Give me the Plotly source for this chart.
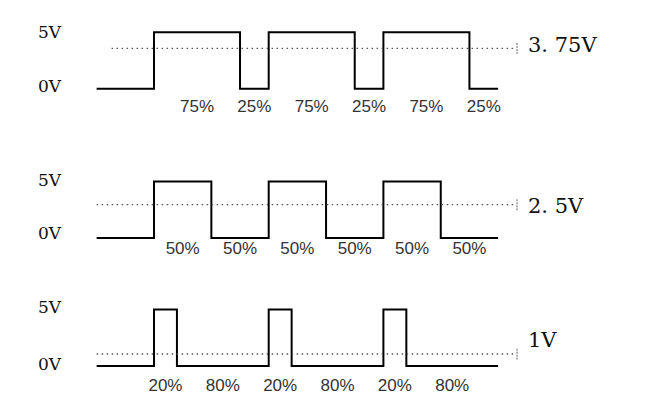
import plotly.graph_objects as go

# ---------------- data ----------------
# edge times in units of one PWM period (step "hv" waveform)
edge_times = [
    [-0.5, 0, 0.75, 1, 1.75, 2, 2.75, 3.0],   # 75 % duty
    [-0.5, 0, 0.5, 1, 1.5, 2, 2.5, 3.0],      # 50 % duty
    [-0.5, 0, 0.2, 1, 1.2, 2, 2.2, 3.0],      # 20 % duty
]
levels = [0, 5, 0, 5, 0, 5, 0, 0]              # volts at each edge
avg_levels = [3.58, 2.95, 1.06]                # dotted average line (as drawn)
avg_start = [-0.37, -0.5, -0.5]
avg_end = 3.15
avg_labels = ["3. 75V", "2. 5V", "1V"]
pct_pos = [
    [0.375, 0.875, 1.375, 1.875, 2.375, 2.875],
    [0.25, 0.75, 1.25, 1.75, 2.25, 2.75],
    [0.1, 0.6, 1.1, 1.6, 2.1, 2.6],
]
pct_text = [
    ["75%", "25%", "75%", "25%", "75%", "25%"],
    ["50%", "50%", "50%", "50%", "50%", "50%"],
    ["20%", "80%", "20%", "80%", "20%", "80%"],
]
volt_ticks = [5, 0]
volt_tick_text = ["5V", "0V"]

# ---------------- layout geometry ----------------
W, H = 655, 406
PX_PER_V = 11.3
baselines_px = [88.8, 238.0, 366.0]            # pixel row of 0 V per panel
X0_PX, PX_PER_T = 154.0, 114.7
x_range = [-X0_PX / PX_PER_T, (W - X0_PX) / PX_PER_T]

pct_y = [-1.68, -1.06, -1.85]
label_y = [3.9, 2.83, 2.3]
v_label_up = [(0, 3), (2, 5), (3, 2)]          # pixel nudges of 5V / 0V labels

fig = go.Figure()
axes = ["y", "y2", "y3"]

for i in range(3):
    ax = axes[i]
    fig.add_trace(go.Scatter(
        x=edge_times[i], y=levels, mode="lines", line_shape="hv",
        line=dict(color="black", width=2), yaxis=ax, showlegend=False,
        hoverinfo="skip"))
    fig.add_trace(go.Scatter(
        x=[avg_start[i], avg_end], y=[avg_levels[i], avg_levels[i]], mode="lines",
        line=dict(color="#555555", width=1.4, dash="1.5px,3.5px"), yaxis=ax,
        showlegend=False, hoverinfo="skip"))
    # small end tick of the dotted line
    fig.add_trace(go.Scatter(
        x=[avg_end + 0.015, avg_end + 0.015],
        y=[avg_levels[i] - 0.5, avg_levels[i] + 0.5], mode="lines",
        line=dict(color="#666666", width=1, dash="2px,1px"), yaxis=ax,
        showlegend=False, hoverinfo="skip"))
    # percentage labels
    fig.add_trace(go.Scatter(
        x=pct_pos[i], y=[pct_y[i]] * len(pct_pos[i]), mode="text",
        text=pct_text[i], textposition="middle center",
        textfont=dict(family="Liberation Sans, Arial, sans-serif", size=17, color="#333333"),
        yaxis=ax, showlegend=False, hoverinfo="skip"))
    # 5V / 0V labels
    for v, t, up in zip(volt_ticks, volt_tick_text, v_label_up[i]):
        fig.add_annotation(
            x=-0.905, y=v, xref="x", yref=ax, text=t, showarrow=False,
            yshift=up, xanchor="center", yanchor="middle",
            font=dict(family="DejaVu Serif, serif", size=17, color="#111111"))
    # average-voltage label
    fig.add_annotation(
        x=avg_end + 0.09, y=label_y[i], xref="x", yref=ax, text=avg_labels[i],
        showarrow=False, xanchor="left", yanchor="middle",
        font=dict(family="DejaVu Serif, serif", size=21, color="#111111"))

layout_axes = {}
for i, ax in enumerate(axes):
    p0 = baselines_px[i]
    rng = [(p0 - H) / PX_PER_V, p0 / PX_PER_V]
    name = "yaxis" if i == 0 else f"yaxis{i+1}"
    d = dict(range=rng, domain=[0, 1], visible=False, fixedrange=True,
             showgrid=False, zeroline=False)
    if i > 0:
        d["overlaying"] = "y"
    layout_axes[name] = d

fig.update_layout(
    width=W, height=H,
    margin=dict(l=0, r=0, t=0, b=0),
    paper_bgcolor="white", plot_bgcolor="white",
    xaxis=dict(range=x_range, visible=False, fixedrange=True,
               showgrid=False, zeroline=False),
    **layout_axes,
)

fig.write_html("out.html", config={"displayModeBar": False},
               post_script="document.body.style.margin='0';document.body.style.overflow='hidden';")
